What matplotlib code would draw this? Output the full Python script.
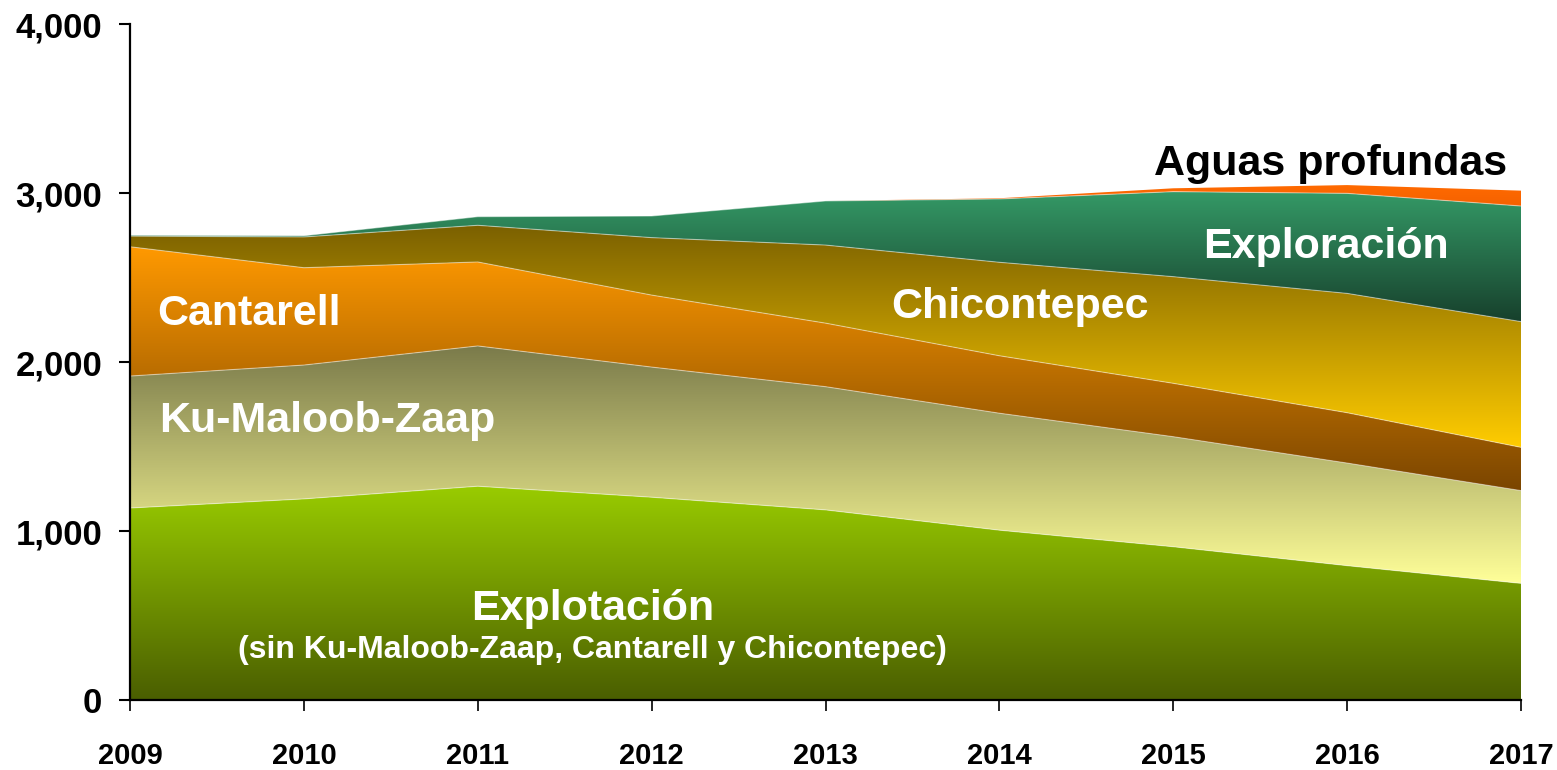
import numpy as np
import matplotlib
matplotlib.use("Agg")
import matplotlib.pyplot as plt
from matplotlib.colors import LinearSegmentedColormap

years = [2009, 2010, 2011, 2012, 2013, 2014, 2015, 2016, 2017]

# production by segment (stacked, bottom to top)
explotacion = [1136, 1190, 1265, 1200, 1125, 1005, 907, 795, 690]
ku_maloob_zaap = [781, 792, 830, 770, 729, 692, 651, 607, 549]
cantarell = [765, 576, 497, 426, 376, 340, 316, 298, 256]
chicontepec = [63, 182, 217, 340, 462, 553, 631, 706, 744]
exploracion = [5, 7, 51, 128, 261, 375, 503, 592, 684]
aguas_profundas = [0, 0, 0, 0, 0, 4, 20, 49, 91]

y_ticks = [0, 1000, 2000, 3000, 4000]

# (values, top colour, bottom colour)
layers = [
    (explotacion, "#99cc00", "#4a5e00"),
    (ku_maloob_zaap, "#7a7a4a", "#ffff99"),
    (cantarell, "#ff9900", "#7a4500"),
    (chicontepec, "#7a6000", "#ffcc00"),
    (exploracion, "#349966", "#17402c"),
    (aguas_profundas, "#ff6a00", "#e65500"),
]

plt.rcParams["font.family"] = ["Liberation Sans", "DejaVu Sans"]
plt.rcParams["font.weight"] = "bold"

fig = plt.figure(figsize=(15.57, 7.70), dpi=100)
ax = fig.add_axes([0.0835, 0.0909, 0.8934, 0.8779])

x = np.array(years, dtype=float)
base = np.zeros(len(years))
grad = np.linspace(0, 1, 256).reshape(-1, 1)
for i, (vals, c_top, c_bot) in enumerate(layers):
    top = base + np.array(vals, dtype=float)
    poly = ax.fill_between(x, base, top, facecolor="none", edgecolor="none")
    cmap = LinearSegmentedColormap.from_list(f"g{i}", [c_bot, c_top])
    ymin, ymax = base.min(), top.max()
    if ymax - ymin < 1:
        ymax = ymin + 1
    im = ax.imshow(grad, cmap=cmap, aspect="auto", origin="lower",
                   extent=[x[0], x[-1], ymin, ymax], zorder=1 + i * 0.01,
                   interpolation="bilinear")
    im.set_clip_path(poly.get_paths()[0], transform=ax.transData)
    if i < len(layers) - 1:
        ax.plot(x, top, color="white", lw=0.8, alpha=0.45, zorder=2)
    base = top

ax.set_xlim(2009, 2017)
ax.set_ylim(0, 4000)
ax.set_xticks(years)
ax.set_xticklabels([str(y) for y in years], fontsize=21, fontweight="bold")
ax.set_yticks(y_ticks)
ax.set_yticklabels([f"{v:,}" for v in y_ticks], fontsize=25, fontweight="bold")
ax.tick_params(axis="y", direction="out", length=8, width=1.5, pad=12)
ax.tick_params(axis="x", direction="out", length=8, width=1.2, pad=22)
for s in ["top", "right"]:
    ax.spines[s].set_visible(False)
for s in ["left", "bottom"]:
    ax.spines[s].set_linewidth(1.6)
    ax.spines[s].set_zorder(5)

lab = dict(fontsize=31, fontweight="bold", zorder=6)
ax.text(2009.155, 2219, "Cantarell", color="white", ha="left", va="baseline", **lab)
ax.text(2009.17, 1586, "Ku-Maloob-Zaap", color="white", ha="left", va="baseline", **lab)
ax.text(2014.12, 2260, "Chicontepec", color="white", ha="center", va="baseline", **lab)
ax.text(2015.88, 2617, "Exploración", color="white", ha="center", va="baseline", **lab)
ax.text(2015.906, 3107, "Aguas profundas", color="black", ha="center", va="baseline", **lab)
ax.text(2011.66, 473, "Explotación", color="white", ha="center", va="baseline", **lab)
ax.text(2011.66, 248, "(sin Ku-Maloob-Zaap, Cantarell y Chicontepec)", color="white",
        ha="center", va="baseline", fontsize=23, fontweight="bold", zorder=6)

fig.savefig("out.png", dpi=100)
